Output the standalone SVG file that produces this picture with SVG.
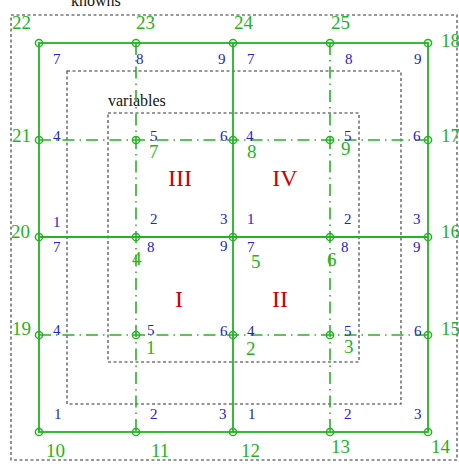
<svg xmlns="http://www.w3.org/2000/svg" width="459" height="469" viewBox="0 0 459 469">
<style>
.bg{fill:#ffffff}
.box{fill:none;stroke:#333;stroke-width:1.1;stroke-dasharray:3 2.5}
.solid{stroke:#22b422;stroke-width:1.8;fill:none}
.dd{stroke:#22b422;stroke-width:1.6;fill:none;stroke-dasharray:12 5 1.5 5}
.nd{fill:none;stroke:#22b422;stroke-width:1.5}
.g{font-family:"Liberation Serif","Times New Roman",serif;font-size:19px;fill:#22b422}
.b{font-family:"Liberation Serif","Times New Roman",serif;font-size:15px;fill:#2222cc}
.r{font-family:"Liberation Serif","Times New Roman",serif;font-size:24px;fill:#d00000;text-anchor:middle}
.k{font-family:"Liberation Serif","Times New Roman",serif;font-size:16px;fill:#111}
</style>
<rect class="bg" x="0" y="0" width="459" height="469"/>
<g id="regions">
<rect class="box" x="11" y="15" width="446" height="445"/>
<rect class="box" x="67" y="71" width="334" height="333"/>
<rect class="box" x="108" y="113" width="251" height="249"/>
<text class="k" x="71" y="6">knowns</text>
<text class="k" x="108" y="106">variables</text>
</g>
<g id="connectors">
<rect class="solid" x="39" y="43" width="389" height="389"/>
<line class="solid" x1="39" y1="237" x2="428" y2="237"/>
<line class="solid" x1="233" y1="43" x2="233" y2="432"/>
<line class="dd" x1="136" y1="43" x2="136" y2="432"/>
<line class="dd" x1="330" y1="43" x2="330" y2="432"/>
<line class="dd" x1="39" y1="140" x2="428" y2="140"/>
<line class="dd" x1="39" y1="335" x2="428" y2="335"/>
</g>
<g id="nodes">
<g id="n22"><circle class="nd" cx="39" cy="43" r="3.6"/><text class="g" x="12" y="29">22</text></g>
<g id="n23"><circle class="nd" cx="136" cy="43" r="3.6"/><text class="g" x="136" y="29">23</text></g>
<g id="n24"><circle class="nd" cx="233" cy="43" r="3.6"/><text class="g" x="234" y="29">24</text></g>
<g id="n25"><circle class="nd" cx="330" cy="43" r="3.6"/><text class="g" x="331" y="29">25</text></g>
<g id="n18"><circle class="nd" cx="428" cy="43" r="3.6"/><text class="g" x="441" y="47">18</text></g>
<g id="n21"><circle class="nd" cx="39" cy="140" r="3.6"/><text class="g" x="12" y="142">21</text></g>
<g id="n7"><circle class="nd" cx="136" cy="140" r="3.6"/><text class="g" x="149" y="158">7</text></g>
<g id="n8"><circle class="nd" cx="233" cy="140" r="3.6"/><text class="g" x="247" y="158">8</text></g>
<g id="n9"><circle class="nd" cx="330" cy="140" r="3.6"/><text class="g" x="341" y="155">9</text></g>
<g id="n17"><circle class="nd" cx="428" cy="140" r="3.6"/><text class="g" x="441" y="142">17</text></g>
<g id="n20"><circle class="nd" cx="39" cy="237" r="3.6"/><text class="g" x="11" y="238">20</text></g>
<g id="n4"><circle class="nd" cx="136" cy="237" r="3.6"/><text class="g" x="132" y="265">4</text></g>
<g id="n5"><circle class="nd" cx="233" cy="237" r="3.6"/><text class="g" x="251" y="268">5</text></g>
<g id="n6"><circle class="nd" cx="330" cy="237" r="3.6"/><text class="g" x="327" y="266">6</text></g>
<g id="n16"><circle class="nd" cx="428" cy="237" r="3.6"/><text class="g" x="441" y="238">16</text></g>
<g id="n19"><circle class="nd" cx="39" cy="335" r="3.6"/><text class="g" x="12" y="335">19</text></g>
<g id="n1"><circle class="nd" cx="136" cy="335" r="3.6"/><text class="g" x="146" y="354">1</text></g>
<g id="n2"><circle class="nd" cx="233" cy="335" r="3.6"/><text class="g" x="246" y="355">2</text></g>
<g id="n3"><circle class="nd" cx="330" cy="335" r="3.6"/><text class="g" x="344" y="353">3</text></g>
<g id="n15"><circle class="nd" cx="428" cy="335" r="3.6"/><text class="g" x="441" y="335">15</text></g>
<g id="n10"><circle class="nd" cx="39" cy="432" r="3.6"/><text class="g" x="46" y="457">10</text></g>
<g id="n11"><circle class="nd" cx="136" cy="432" r="3.6"/><text class="g" x="151" y="457">11</text></g>
<g id="n12"><circle class="nd" cx="233" cy="432" r="3.6"/><text class="g" x="241" y="457">12</text></g>
<g id="n13"><circle class="nd" cx="330" cy="432" r="3.6"/><text class="g" x="331" y="453">13</text></g>
<g id="n14"><circle class="nd" cx="428" cy="432" r="3.6"/><text class="g" x="431" y="453">14</text></g>
</g>
<g id="elemIII">
<text class="r" x="180" y="186">III</text>
<text class="b" x="53" y="64">7</text><text class="b" x="136" y="64">8</text><text class="b" x="218" y="64">9</text>
<text class="b" x="53" y="141">4</text><text class="b" x="150" y="141">5</text><text class="b" x="220" y="141">6</text>
<text class="b" x="53" y="227">1</text><text class="b" x="150" y="224">2</text><text class="b" x="220" y="224">3</text>
</g>
<g id="elemIV">
<text class="r" x="285" y="186">IV</text>
<text class="b" x="247" y="64">7</text><text class="b" x="345" y="64">8</text><text class="b" x="414" y="64">9</text>
<text class="b" x="246" y="141">4</text><text class="b" x="344" y="141">5</text><text class="b" x="413" y="141">6</text>
<text class="b" x="247" y="224">1</text><text class="b" x="344" y="224">2</text><text class="b" x="413" y="224">3</text>
</g>
<g id="elemI">
<text class="r" x="179" y="307">I</text>
<text class="b" x="53" y="252">7</text><text class="b" x="147" y="252">8</text><text class="b" x="220" y="251">9</text>
<text class="b" x="53" y="335">4</text><text class="b" x="147" y="335">5</text><text class="b" x="220" y="336">6</text>
<text class="b" x="54" y="419">1</text><text class="b" x="150" y="419">2</text><text class="b" x="219" y="419">3</text>
</g>
<g id="elemII">
<text class="r" x="280" y="307">II</text>
<text class="b" x="247" y="252">7</text><text class="b" x="341" y="252">8</text><text class="b" x="413" y="252">9</text>
<text class="b" x="247" y="336">4</text><text class="b" x="344" y="336">5</text><text class="b" x="414" y="336">6</text>
<text class="b" x="248" y="419">1</text><text class="b" x="344" y="419">2</text><text class="b" x="414" y="419">3</text>
</g>
</svg>
